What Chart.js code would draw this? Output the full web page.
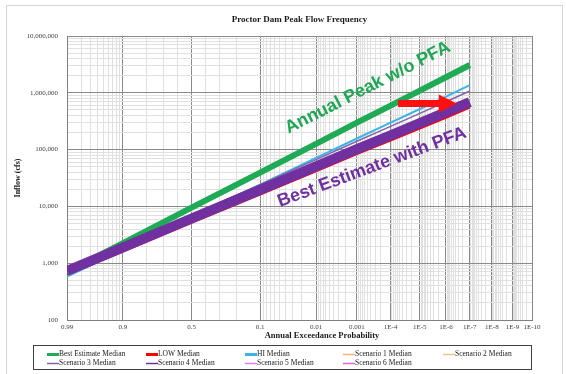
<!DOCTYPE html>
<html>
<head>
<meta charset="utf-8">
<title>Proctor Dam Peak Flow Frequency</title>
<script src="https://cdn.jsdelivr.net/npm/chart.js@4.4.0/dist/chart.umd.min.js"></script>
<style>
  html, body { margin: 0; padding: 0; background: #ffffff; }
  #wrap { width: 566px; height: 374px; position: relative; }
</style>
</head>
<body>
<div id="wrap"><canvas id="chart" width="566" height="374"></canvas></div>
<script>
// Annual exceedance probabilities at which the frequency curves are tabulated
const exceedance = [0.99, 0.9, 0.5, 0.1, 0.01, 0.001, 1e-4, 1e-5, 1e-6, 1e-7];

// Peak inflow (cfs) for each curve
const bestEstimate = [700, 2250, 9520, 39400, 126500, 297500, 593000, 1089000, 1875000, 3087000];
const lowMedian    = [625, 1610, 5160, 16200, 41600, 83000, 144700, 235000, 364000, 547000];
const hiMedian     = [583, 1720, 6510, 24200, 71400, 156800, 297600, 518400, 857000, 1366000];
const scenario1    = [720, 1870, 6050, 19300, 50000, 100000, 176000, 288000, 450000, 675000];
const scenario2    = [735, 1910, 6200, 19800, 51500, 103000, 181000, 296000, 462000, 695000];
const scenario3    = [729, 2018, 7060, 24200, 66700, 140600, 256000, 433500, 697000, 1076000];
const scenario4    = [729, 1890, 6120, 19500, 50600, 101600, 178600, 291600, 455000, 683000];
const scenario5    = [725, 1880, 6100, 19400, 50300, 101000, 177500, 290000, 452000, 680000];
const scenario6    = [732, 1900, 6150, 19600, 51000, 102200, 179500, 293000, 458000, 688000];

// Probability-axis tick marks
const majorProbs   = [0.99, 0.9, 0.5, 0.1, 0.01, 0.001, 1e-4, 1e-5, 1e-6, 1e-7, 1e-8, 1e-9, 1e-10];
const xTickLabels  = ['0.99', '0.9', '0.5', '0.1', '0.01', '0.001', '1E-4', '1E-5', '1E-6', '1E-7', '1E-8', '1E-9', '1E-10'];
const yMajorTicks  = [100, 1000, 10000, 100000, 1000000, 10000000];
const yTickLabels  = ['100', '1,000', '10,000', '100,000', '1,000,000', '10,000,000'];

// Inverse standard normal CDF (Acklam's rational approximation)
function invNorm(p) {
  const a = [-3.969683028665376e+01, 2.209460984245205e+02, -2.759285104469687e+02, 1.383577518672690e+02, -3.066479806614716e+01, 2.506628277459239e+00];
  const b = [-5.447609879822406e+01, 1.615858368580409e+02, -1.556989798598866e+02, 6.680131188771972e+01, -1.328068155288572e+01];
  const c = [-7.784894002430293e-03, -3.223964580411365e-01, -2.400758277161838e+00, -2.549732539343734e+00, 4.374664141464968e+00, 2.938163982698783e+00];
  const d = [7.784695709041462e-03, 3.224671290700398e-01, 2.445134137142996e+00, 3.754408661907416e+00];
  const pl = 0.02425, ph = 1 - pl;
  let q, r;
  if (p < pl) {
    q = Math.sqrt(-2 * Math.log(p));
    return (((((c[0]*q + c[1])*q + c[2])*q + c[3])*q + c[4])*q + c[5]) / ((((d[0]*q + d[1])*q + d[2])*q + d[3])*q + 1);
  }
  if (p <= ph) {
    q = p - 0.5; r = q * q;
    return (((((a[0]*r + a[1])*r + a[2])*r + a[3])*r + a[4])*r + a[5])*q / (((((b[0]*r + b[1])*r + b[2])*r + b[3])*r + b[4])*r + 1);
  }
  q = Math.sqrt(-2 * Math.log(1 - p));
  return -(((((c[0]*q + c[1])*q + c[2])*q + c[3])*q + c[4])*q + c[5]) / ((((d[0]*q + d[1])*q + d[2])*q + d[3])*q + 1);
}
// Normal-probability position of an exceedance probability
const zOf = p => -invNorm(p);

// Minor grid positions on the probability axis
const minorProbs = [0.98, 0.97, 0.96, 0.95, 0.94, 0.93, 0.92, 0.91, 0.8, 0.7, 0.6, 0.4, 0.3, 0.2];
for (let n = 2; n <= 10; n++) for (let k = 2; k <= 9; k++) minorProbs.push(k * Math.pow(10, -n));

const xTickObjs = majorProbs.map((p, i) => ({ value: zOf(p), major: true, label: xTickLabels[i] }))
  .concat(minorProbs.map(p => ({ value: zOf(p), major: false, label: '' })))
  .sort((a, b) => a.value - b.value);

const yTickObjs = [];
for (let n = 2; n <= 6; n++) for (let k = 1; k <= 9; k++) yTickObjs.push({ value: k * Math.pow(10, n), major: k === 1 });
yTickObjs.push({ value: 1e7, major: true });

const serif = '"Liberation Serif", "Times New Roman", serif';

const series = [
  { label: 'Best Estimate Median', values: bestEstimate, color: '#1faa55', width: 6,   legendWidth: 3,   order: 5 },
  { label: 'LOW Median',           values: lowMedian,    color: '#ff0000', width: 2,   legendWidth: 3,   order: 6 },
  { label: 'HI Median',            values: hiMedian,     color: '#3cb4e6', width: 2,   legendWidth: 3,   order: 4 },
  { label: 'Scenario 1 Median',    values: scenario1,    color: '#f5b080', width: 1.5, legendWidth: 1.5, order: 7 },
  { label: 'Scenario 2 Median',    values: scenario2,    color: '#e8c58c', width: 1.5, legendWidth: 1.5, order: 7 },
  { label: 'Scenario 3 Median',    values: scenario3,    color: '#7f64ac', width: 1.5, legendWidth: 1.5, order: 3 },
  { label: 'Scenario 4 Median',    values: scenario4,    color: '#7030a0', width: 10,  legendWidth: 1.5, order: 2 },
  { label: 'Scenario 5 Median',    values: scenario5,    color: '#e67ce6', width: 1.5, legendWidth: 1.5, order: 7 },
  { label: 'Scenario 6 Median',    values: scenario6,    color: '#d66ad6', width: 1.5, legendWidth: 1.5, order: 7 }
];

// Callout annotations, positioned in data units (exceedance probability, cfs)
const callouts = [
  { text: 'Annual Peak w/o PFA',    prob: 0.035, flow: 190000, angle: 27, color: '#1fa854' },
  { text: 'Best Estimate with PFA', prob: 0.049, flow: 9750,   angle: 20.5, color: '#7030a0' }
];
const shiftArrow = { fromProb: 5.7e-5, toProb: 3.6e-7, flow: 650000, color: '#ff1010' };

const decorPlugin = {
  id: 'decor',
  beforeDraw(chart) {
    const ctx = chart.ctx;
    ctx.save();
    ctx.fillStyle = '#ffffff';
    ctx.fillRect(0, 0, chart.width, chart.height);
    ctx.strokeStyle = '#d4d4d4';
    ctx.lineWidth = 1;
    ctx.strokeRect(6.5, 5.5, 556, 420);
    ctx.restore();
  },
  afterDatasetsDraw(chart) {
    const ctx = chart.ctx, xs = chart.scales.x, ys = chart.scales.y;
    ctx.save();
    // shift arrow
    const ax0 = xs.getPixelForValue(zOf(shiftArrow.fromProb));
    const ax1 = xs.getPixelForValue(zOf(shiftArrow.toProb));
    const ay = ys.getPixelForValue(shiftArrow.flow);
    const headLen = 18, headHalf = 9, shaftHalf = 3.5;
    ctx.fillStyle = shiftArrow.color;
    ctx.beginPath();
    ctx.moveTo(ax0, ay - shaftHalf);
    ctx.lineTo(ax1 - headLen, ay - shaftHalf);
    ctx.lineTo(ax1 - headLen, ay - headHalf);
    ctx.lineTo(ax1, ay);
    ctx.lineTo(ax1 - headLen, ay + headHalf);
    ctx.lineTo(ax1 - headLen, ay + shaftHalf);
    ctx.lineTo(ax0, ay + shaftHalf);
    ctx.closePath();
    ctx.fill();
    // rotated callout text
    ctx.textAlign = 'left';
    ctx.textBaseline = 'alphabetic';
    ctx.font = 'bold 18px "Liberation Sans", Arial, sans-serif';
    callouts.forEach(c => {
      ctx.save();
      ctx.translate(xs.getPixelForValue(zOf(c.prob)), ys.getPixelForValue(c.flow));
      ctx.rotate(-c.angle * Math.PI / 180);
      ctx.fillStyle = c.color;
      ctx.fillText(c.text, 0, 0);
      ctx.restore();
    });
    ctx.restore();
  },
  afterDraw(chart) {
    const ctx = chart.ctx, area = chart.chartArea;
    ctx.save();
    ctx.fillStyle = '#1a1a1a';
    ctx.textAlign = 'center';
    ctx.textBaseline = 'middle';
    ctx.font = 'bold 9px ' + serif;
    ctx.fillText('Proctor Dam Peak Flow Frequency', (area.left + area.right) / 2, 20);
    ctx.font = 'bold 8.5px ' + serif;
    ctx.fillText('Annual Exceedance Probability', 322, 336);
    ctx.save();
    ctx.translate(18, (area.top + area.bottom) / 2);
    ctx.rotate(-Math.PI / 2);
    ctx.font = 'bold 8px ' + serif;
    ctx.fillText('Inflow (cfs)', 0, 0);
    ctx.restore();

    // legend
    ctx.strokeStyle = '#404040';
    ctx.lineWidth = 1;
    ctx.strokeRect(33.5, 345.5, 498, 24);
    const cols = [47, 146, 245, 343, 443];
    const rows = [354.5, 363.5];
    ctx.textAlign = 'left';
    ctx.font = '7.5px ' + serif;
    chart.data.datasets.forEach((ds, i) => {
      const x = cols[i % 5], y = rows[Math.floor(i / 5)];
      ctx.strokeStyle = ds.borderColor;
      ctx.lineWidth = series[i].legendWidth;
      ctx.beginPath();
      ctx.moveTo(x, y);
      ctx.lineTo(x + 12, y);
      ctx.stroke();
      ctx.fillStyle = '#1a1a1a';
      ctx.fillText(ds.label, x + 12, y);
    });
    ctx.restore();
  }
};

new Chart(document.getElementById('chart'), {
  type: 'line',
  data: {
    datasets: series.map(s => ({
      label: s.label,
      data: exceedance.map((p, i) => ({ x: zOf(p), y: s.values[i] })),
      borderColor: s.color,
      backgroundColor: s.color,
      borderWidth: s.width,
      pointRadius: 0,
      fill: false,
      tension: 0,
      order: s.order
    }))
  },
  options: {
    responsive: false,
    animation: false,
    devicePixelRatio: 1,
    layout: { padding: { top: 36, right: 34, left: 0, bottom: 0 } },
    plugins: { legend: { display: false }, tooltip: { enabled: false }, title: { display: false } },
    scales: {
      x: {
        type: 'linear',
        min: zOf(0.99),
        max: zOf(1e-10),
        afterBuildTicks: s => { s.ticks = xTickObjs.map(t => ({ value: t.value, major: t.major })); },
        afterFit: s => { s.height = 54; },
        ticks: {
          autoSkip: false, maxRotation: 0, minRotation: 0, padding: 3,
          color: '#404040', font: { family: serif, size: 7 },
          callback: (v, i) => xTickObjs[i].label
        },
        grid: { color: c => (c.tick && c.tick.major) ? '#8a8a8a' : '#e0e0e0', lineWidth: 1, drawTicks: false },
        border: { color: '#808080' }
      },
      y: {
        type: 'logarithmic',
        min: 100,
        max: 1e7,
        afterBuildTicks: s => { s.ticks = yTickObjs.map(t => ({ value: t.value, major: t.major })); },
        afterFit: s => { s.width = 67; },
        ticks: {
          autoSkip: false, padding: 9,
          color: '#404040', font: { family: serif, size: 7 },
          callback: v => { const k = yMajorTicks.indexOf(v); return k >= 0 ? yTickLabels[k] : ''; }
        },
        grid: { color: c => (c.tick && c.tick.major) ? '#8a8a8a' : '#e0e0e0', lineWidth: 1, drawTicks: false },
        border: { color: '#808080' }
      }
    }
  },
  plugins: [decorPlugin]
});
</script>
</body>
</html>
